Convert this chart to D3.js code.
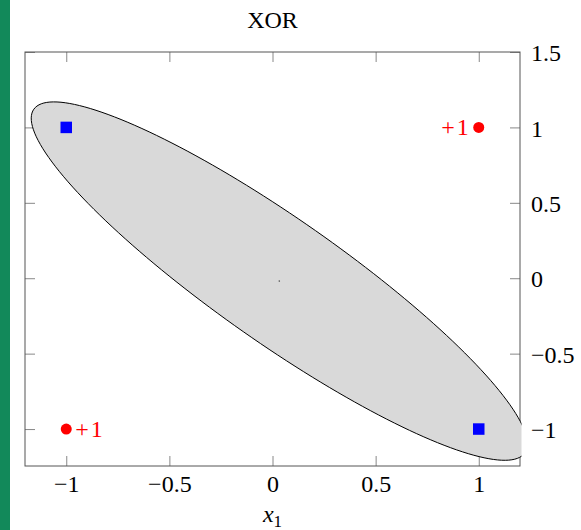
<!DOCTYPE html>
<head>
  <meta charset="utf-8">
  <script src="https://d3js.org/d3.v7.min.js"></script>
  <style>
    body { margin:0; background:#fff; }
    svg { display:block; }
    text { font-family: "Liberation Serif", "DejaVu Serif", serif; }
  </style>
</head>
<body>
<script type="text/javascript">
  // points of the XOR problem
  var squareX = [-1, 1];
  var squareY = [1, -1];
  var circleX = [1, -1];
  var circleY = [1, -1];
  var circleLabels = ["+1", "+1"];
  var labelSide = ["left", "right"];

  // ellipse: centre and two conjugate semi-axes, in data units
  var ellipseCenter = [0.033, -0.019];
  var ellipseAxisA = [1.19, -1.14];
  var ellipseAxisB = [-0.175, -0.335];

  var xTicks = [-1, -0.5, 0, 0.5, 1];
  var yTicks = [-1, -0.5, 0, 0.5, 1, 1.5];
  var xDomain = [-1.2, 1.2];
  var yDomain = [-1.245, 1.5];

  var width = 581, height = 530;
  // note: "top" is a reserved window property, so use plotX0 etc.
  var plotX0 = 25, plotX1 = 520, plotY0 = 52, plotY1 = 466;
  var tick = 10;
  var fontSize = "24px";

  var svg = d3.select("body").append("svg")
    .attr("width", width)
    .attr("height", height);

  // green strip on the left edge
  svg.append("rect")
    .attr("x", 0).attr("y", 0)
    .attr("width", 10).attr("height", height)
    .attr("fill", "#12895a");

  var x = d3.scaleLinear().domain(xDomain).range([plotX0, plotX1]);
  var y = d3.scaleLinear().domain(yDomain).range([plotY1, plotY0]);

  var fmt = d3.format("");

  // axes, ticks pointing inward on all four sides
  svg.append("g")
    .attr("transform", "translate(0," + plotY1 + ")")
    .call(d3.axisBottom(x).tickValues(xTicks).tickSize(-tick).tickPadding(9).tickFormat(fmt));
  svg.append("g")
    .attr("transform", "translate(0," + plotY0 + ")")
    .call(d3.axisTop(x).tickValues(xTicks).tickSize(-tick).tickFormat(""));
  var gRight = svg.append("g")
    .attr("transform", "translate(" + plotX1 + ",0)")
    .call(d3.axisRight(y).tickValues(yTicks).tickSize(-tick).tickPadding(11).tickFormat(fmt));
  svg.append("g")
    .attr("transform", "translate(" + plotX0 + ",0)")
    .call(d3.axisLeft(y).tickValues(yTicks).tickSize(-tick).tickFormat(""));

  svg.selectAll(".domain").remove();
  svg.selectAll(".tick line").attr("stroke", "#888");
  svg.selectAll(".tick text")
    .attr("fill", "#000")
    .style("font-size", fontSize)
    .style("font-family", "'Liberation Serif', serif");
  gRight.selectAll(".tick text").attr("dy", "0.36em");

  // frame
  svg.append("rect")
    .attr("x", plotX0).attr("y", plotY0)
    .attr("width", plotX1 - plotX0).attr("height", plotY1 - plotY0)
    .attr("fill", "none")
    .attr("stroke", "#555")
    .attr("stroke-width", 1);

  // ellipse, clipped just outside the frame
  svg.append("clipPath").attr("id", "clip")
    .append("rect")
    .attr("x", plotX0 - 2).attr("y", plotY0 - 2)
    .attr("width", plotX1 - plotX0 + 3.5).attr("height", plotY1 - plotY0 + 4);

  var ts = d3.range(0, 360, 2).map(function (d) { return d * Math.PI / 180; });
  var ellipseLine = d3.line()
    .x(function (t) { return x(ellipseCenter[0] + ellipseAxisA[0] * Math.cos(t) + ellipseAxisB[0] * Math.sin(t)); })
    .y(function (t) { return y(ellipseCenter[1] + ellipseAxisA[1] * Math.cos(t) + ellipseAxisB[1] * Math.sin(t)); })
    .curve(d3.curveCardinalClosed);

  svg.append("path")
    .datum(ts)
    .attr("clip-path", "url(#clip)")
    .attr("d", ellipseLine)
    .attr("fill", "#d9d9d9")
    .attr("stroke", "#000")
    .attr("stroke-width", 1);

  // tiny centre mark
  svg.append("circle")
    .attr("cx", x(ellipseCenter[0]))
    .attr("cy", y(ellipseCenter[1]))
    .attr("r", 0.8)
    .attr("fill", "#555");

  // blue squares
  var sq = 11.5;
  svg.selectAll(".sq")
    .data(squareX).enter().append("rect")
    .attr("class", "sq")
    .attr("x", function (d) { return x(d) - sq / 2; })
    .attr("y", function (d, i) { return y(squareY[i]) - sq / 2; })
    .attr("width", sq).attr("height", sq)
    .attr("fill", "#0000ff");

  // red circles with labels
  svg.selectAll(".pt")
    .data(circleX).enter().append("circle")
    .attr("class", "pt")
    .attr("cx", function (d) { return x(d); })
    .attr("cy", function (d, i) { return y(circleY[i]); })
    .attr("r", 5.5)
    .attr("fill", "#ff0000");

  svg.selectAll(".lbl")
    .data(circleLabels).enter().append("text")
    .attr("class", "lbl")
    .attr("x", function (d, i) { return x(circleX[i]) + (labelSide[i] === "left" ? -8 : 9); })
    .attr("y", function (d, i) { return y(circleY[i]) + 8; })
    .attr("text-anchor", function (d, i) { return labelSide[i] === "left" ? "end" : "start"; })
    .attr("fill", "#ff0000")
    .style("font-size", fontSize)
    .style("letter-spacing", "2px")
    .text(function (d) { return d; });

  // title
  svg.append("text")
    .attr("x", (plotX0 + plotX1) / 2)
    .attr("y", 28)
    .attr("text-anchor", "middle")
    .style("font-size", fontSize)
    .text("XOR");

  // x label
  var xl = svg.append("text")
    .attr("x", (plotX0 + plotX1) / 2)
    .attr("y", 522)
    .attr("text-anchor", "middle")
    .style("font-size", fontSize);
  xl.append("tspan").style("font-style", "italic").text("x");
  xl.append("tspan").attr("dy", 5).style("font-size", "17px").text("1");
</script>
</body>
